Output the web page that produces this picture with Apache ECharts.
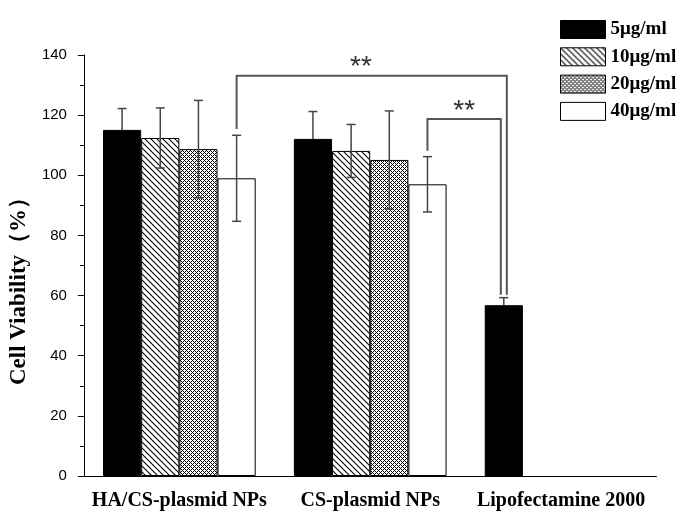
<!DOCTYPE html>
<html><head><meta charset="utf-8">
<script src="https://cdn.jsdelivr.net/npm/echarts@6/dist/echarts.min.js"></script>
<style>html,body{margin:0;padding:0;background:#fff}#c{width:679px;height:514px}</style>
</head><body><div id="c"></div>
<script>
// ---- data ----
const categories = ['HA/CS-plasmid NPs', 'CS-plasmid NPs', 'Lipofectamine 2000'];
const seriesNames = ['5μg/ml', '10μg/ml', '20μg/ml', '40μg/ml'];
const values5  = [115.1, 112.1, 56.8];
const values10 = [112.4, 108.1, null];
const values20 = [108.7, 105.1, null];
const values40 = [99.0, 97.0, null];
const err5  = [7.1, 9.1, 2.5];
const err10 = [10.0, 8.8, null];
const err20 = [16.2, 16.3, null];
const err40 = [14.3, 9.2, null];
const yMin = 0, yMax = 140, yStep = 20;
// significance brackets: [leftCat, leftSlot, leftBottom, rightCat, rightSlot, rightBottom, top]
const bracketOuter = [0, 3, 115.4, 2, 0, 60.3, 133.1];
const bracketInner = [1, 3, 108.2, 2, 0, 60.3, 118.7];
const bracketLabels = ['**', '**'];

// ---- patterns ----
function hatchPattern() {
  const s = 6, c = document.createElement('canvas');
  c.width = s; c.height = s;
  const g = c.getContext('2d');
  g.fillStyle = '#fff'; g.fillRect(0, 0, s, s);
  g.strokeStyle = '#000'; g.lineWidth = 1.1;
  g.beginPath();
  g.moveTo(-3, -3); g.lineTo(s + 3, s + 3);
  g.moveTo(-3, s - 3); g.lineTo(3, s + 3);
  g.moveTo(s - 3, -3); g.lineTo(s + 3, 3);
  g.stroke();
  return c;
}
function crossPattern() {
  const s = 4, c = document.createElement('canvas');
  c.width = s; c.height = s;
  const g = c.getContext('2d');
  g.fillStyle = '#fff'; g.fillRect(0, 0, s, s);
  g.fillStyle = '#000';
  for (let x = 0; x < s; x++) for (let y = 0; y < s; y++) {
    if ((x + y) % 4 === 0 || ((x - y) % 4 + 4) % 4 === 0) g.fillRect(x, y, 1, 1);
  }
  return c;
}
const fills = [
  '#000',
  { image: hatchPattern(), repeat: 'repeat' },
  { image: crossPattern(), repeat: 'repeat' },
  '#fff'
];
const valueSets = [values5, values10, values20, values40];
const errSets = [err5, err10, err20, err40];

const chart = echarts.init(document.getElementById('c'), null, { renderer: 'canvas' });

function slotX(api, cat, slot) {
  const c = api.coord([cat, 0])[0];
  const band = api.size([1, 0])[0];
  const bw = band * 0.8 / 4;
  return c + (slot - 1.5) * bw;
}

const errData = [];
valueSets.forEach((vals, s) => vals.forEach((v, i) => {
  if (v != null && errSets[s][i] != null) errData.push([i, v, errSets[s][i], s]);
}));

const bracketData = [bracketOuter.concat([0.46, 3]), bracketInner.concat([0.5, -3])];

const serif = '"Liberation Serif", "Times New Roman", serif';
const sans = '"Liberation Sans", Arial, sans-serif';

const barSeries = seriesNames.map((name, s) => ({
  name, type: 'bar', xAxisIndex: 0,
  data: valueSets[s].map(v => v == null ? '-' : v),
  barGap: '0%', barCategoryGap: '20%',
  itemStyle: { color: fills[s], borderColor: '#000', borderWidth: 1 },
  z: 2
}));

chart.setOption({
  animation: false,
  backgroundColor: '#fff',
  grid: { left: 83.5, right: 22.5, top: 55, bottom: 38 },
  legend: {
    orient: 'vertical', left: 555, top: 15,
    itemWidth: 45, itemHeight: 18, itemGap: 8.3,
    icon: 'rect',
    data: seriesNames,
    itemStyle: { borderColor: '#000', borderWidth: 1 },
    textStyle: { fontFamily: serif, fontWeight: 'bold', fontSize: 19, color: '#000' }
  },
  xAxis: [{
    type: 'category', data: categories,
    axisLine: { lineStyle: { color: '#000', width: 1 } },
    axisTick: { alignWithLabel: true, length: 9, lineStyle: { color: '#000' } },
    axisLabel: { interval: 0, hideOverlap: false, margin: 15, fontFamily: serif, fontWeight: 'bold', fontSize: 20, color: '#000' }
  }, {
    type: 'category', data: categories, position: 'bottom',
    axisLine: { show: false },
    axisTick: { length: 4, lineStyle: { color: '#000' } },
    axisLabel: { show: false }
  }],
  yAxis: {
    type: 'value', min: yMin, max: yMax, interval: yStep,
    name: 'Cell Viability（%）', nameLocation: 'middle', nameGap: 52,
    nameTextStyle: { fontFamily: serif, fontWeight: 'bold', fontSize: 23, color: '#000', padding: [0, 40, 0, 0] },
    axisLine: { show: true, lineStyle: { color: '#000', width: 1 } },
    axisTick: { show: true, length: 6, lineStyle: { color: '#000' } },
    minorTick: { show: true, splitNumber: 2, length: 4, lineStyle: { color: '#000' } },
    splitLine: { show: false },
    axisLabel: { margin: 17, fontFamily: sans, fontSize: 15, color: '#000' }
  },
  series: barSeries.concat([{
    type: 'custom', name: 'err', xAxisIndex: 0, z: 5, clip: false,
    encode: { x: 0, y: 1 },
    data: errData,
    renderItem: (params, api) => {
      const cat = api.value(0), v = api.value(1), e = api.value(2), slot = api.value(3);
      const x = slotX(api, cat, slot);
      const yT = api.coord([cat, v + e])[1];
      const yB = api.coord([cat, slot === 0 ? v : v - e])[1];
      const st = { stroke: '#444', lineWidth: 1.5 };
      const cap = 4.5;
      const ch = [
        { type: 'line', shape: { x1: x, y1: yT, x2: x, y2: yB }, style: st },
        { type: 'line', shape: { x1: x - cap, y1: yT, x2: x + cap, y2: yT }, style: st }
      ];
      if (slot !== 0) ch.push({ type: 'line', shape: { x1: x - cap, y1: yB, x2: x + cap, y2: yB }, style: st });
      return { type: 'group', children: ch };
    }
  }, {
    type: 'custom', name: 'sig', xAxisIndex: 0, z: 6, clip: false,
    encode: { x: 0, y: 2 },
    data: bracketData,
    renderItem: (params, api) => {
      const d = bracketData[params.dataIndex];
      const xL = slotX(api, d[0], d[1]);
      const xR = slotX(api, d[3], d[4]) + d[8];
      const yLB = api.coord([d[0], d[2]])[1];
      const yRB = api.coord([d[3], d[5]])[1];
      const yTop = api.coord([d[0], d[6]])[1];
      const tx = xL + (xR - xL) * d[7];
      return { type: 'group', children: [
        { type: 'polyline', shape: { points: [[xL, yLB], [xL, yTop], [xR, yTop], [xR, yRB]] },
          style: { stroke: '#555', lineWidth: 2, fill: null } },
        { type: 'text', style: { text: bracketLabels[params.dataIndex], x: tx, y: yTop + 6,
          align: 'center', verticalAlign: 'bottom', fontSize: 28, fontFamily: sans, fill: '#333' } }
      ] };
    }
  }])
});
</script></body></html>
